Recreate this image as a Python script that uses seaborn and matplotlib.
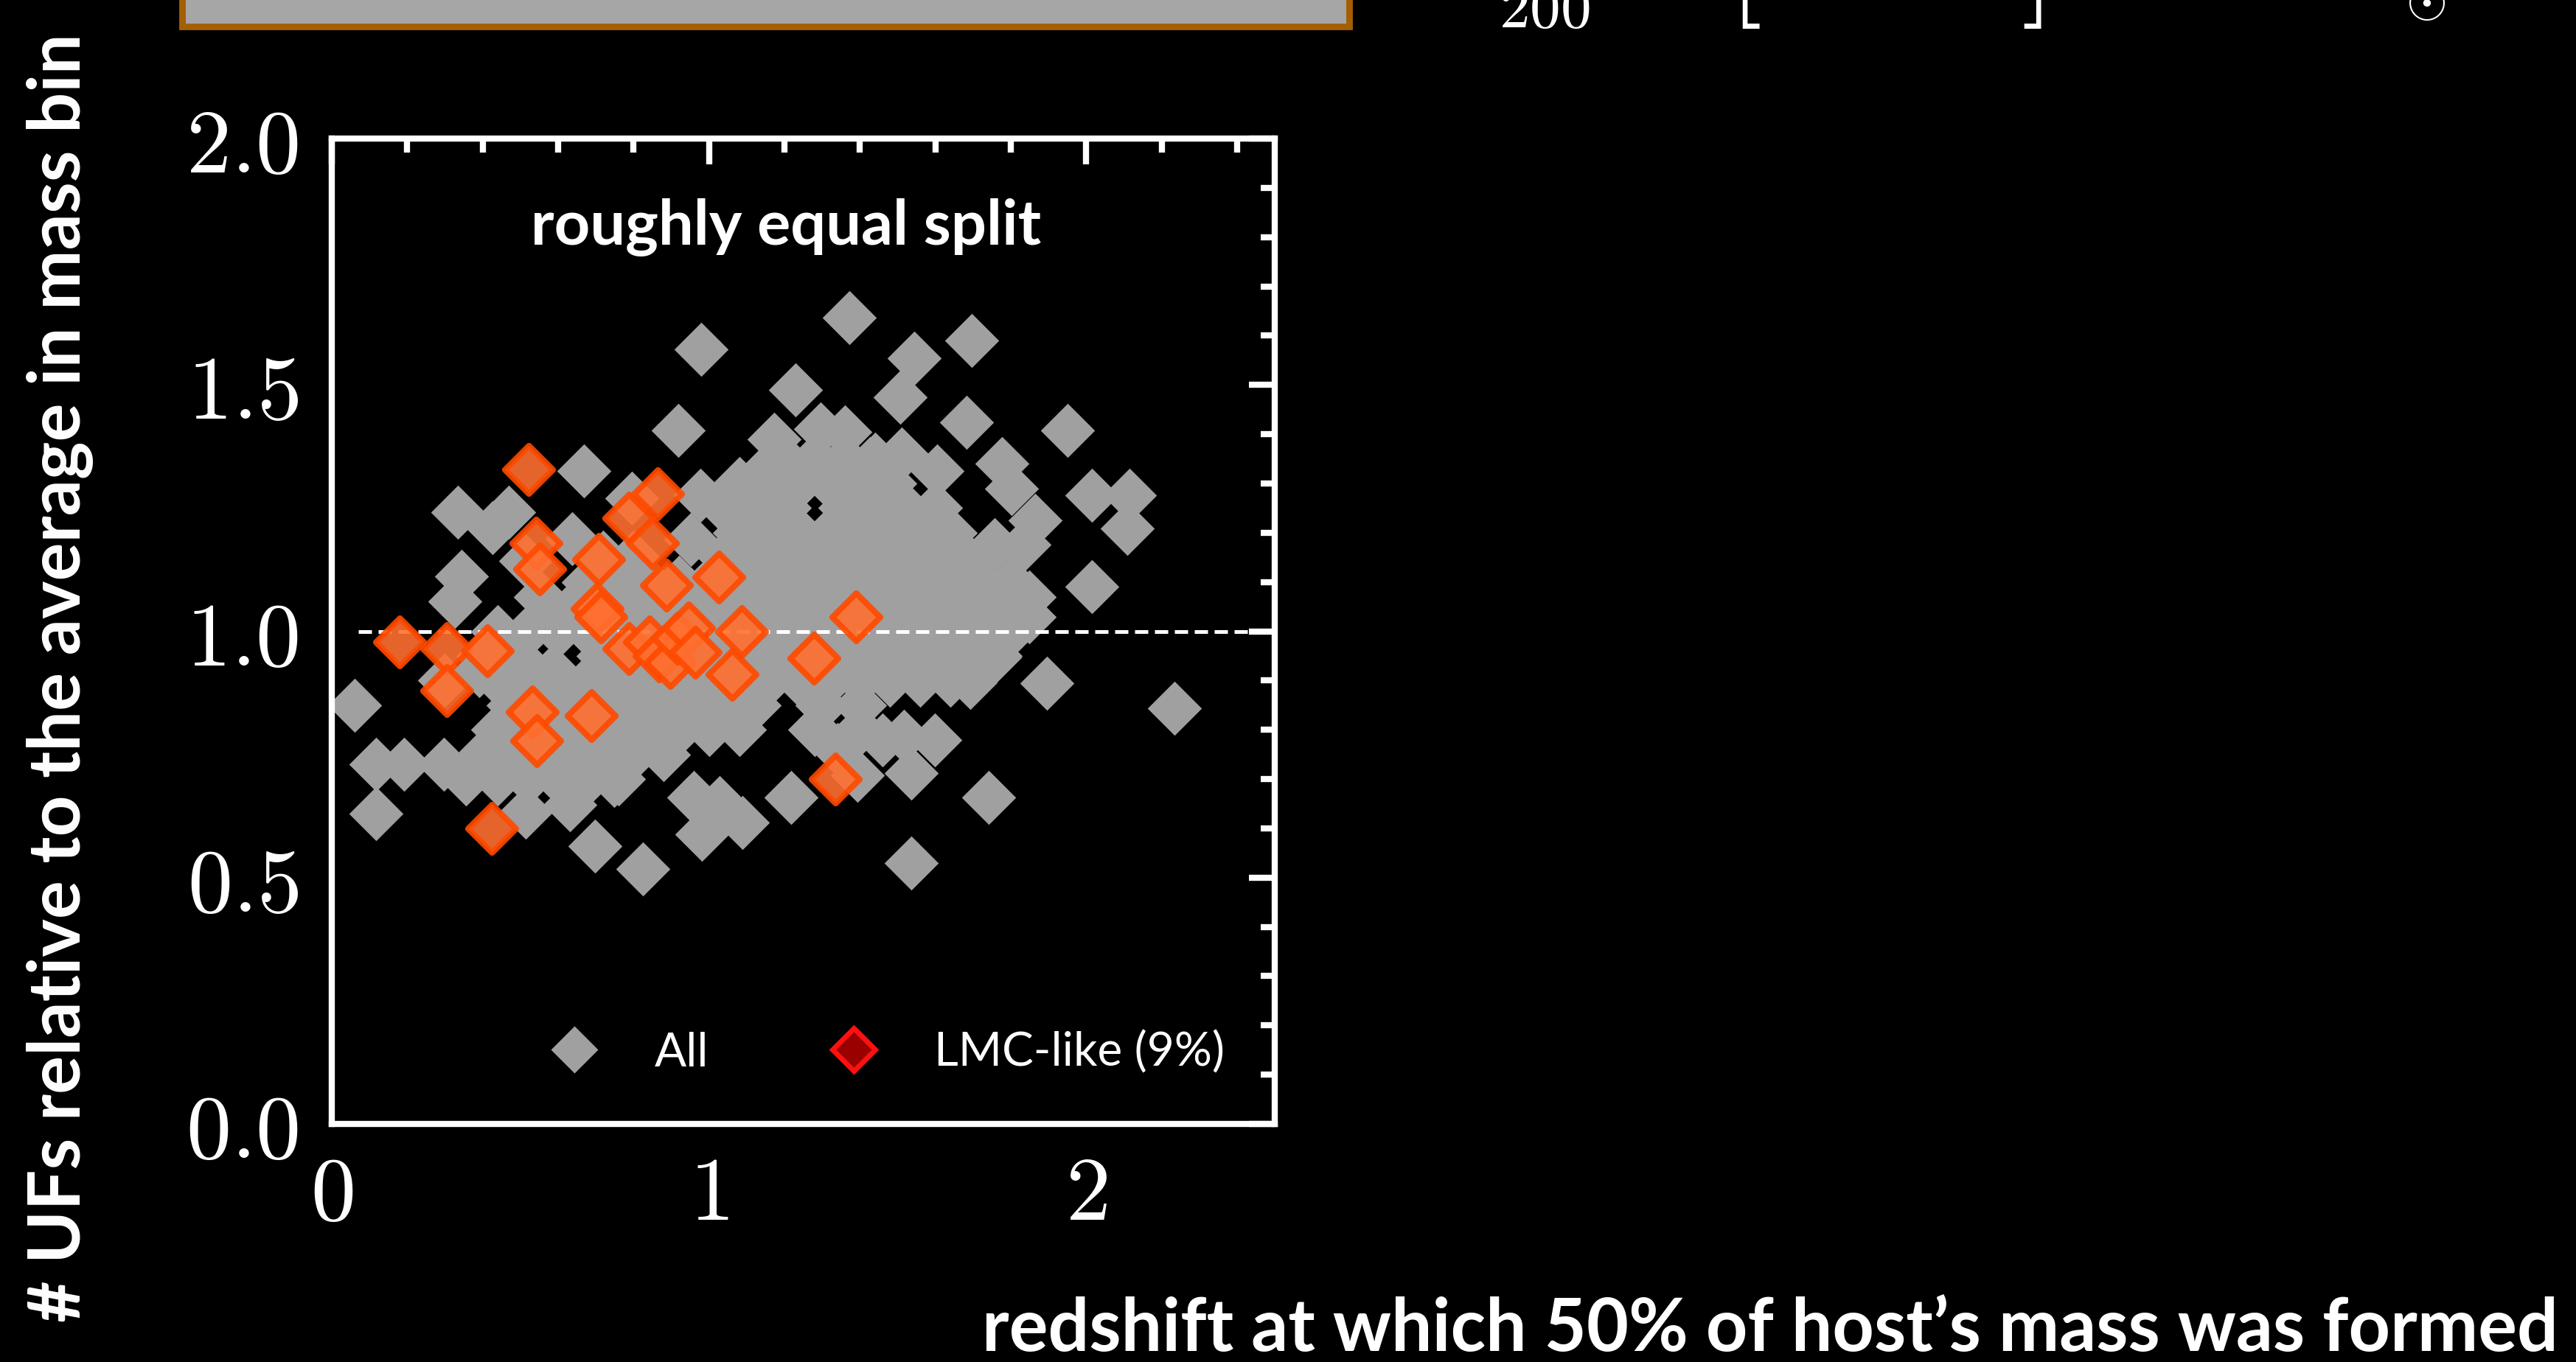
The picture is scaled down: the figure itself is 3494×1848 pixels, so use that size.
import matplotlib
matplotlib.use("Agg")
import matplotlib.pyplot as plt
import seaborn as sns
import pandas as pd
from matplotlib.lines import Line2D
from matplotlib.patches import Rectangle
from matplotlib.ticker import MultipleLocator

# ---------------- data ----------------
gray_x = [
    0.06, 0.117, 0.117, 0.191, 0.297, 0.355, 0.416,
    0.334, 0.47, 0.426, 0.668, 0.795, 0.637, 0.344, 0.326, 0.514, 0.553,
    1.373, 0.98, 1.545, 1.508, 1.229, 0.918, 1.172, 1.295, 1.361, 1.51, 1.426, 1.162, 0.977, 1.107, 0.951,
    1.696, 1.682, 1.951, 1.777, 1.605, 1.803, 1.865, 2.016, 2.115, 2.109, 1.758, 1.836, 1.693, 2.016, 1.85,
    0.514, 0.697, 0.631, 0.825, 0.748, 0.39, 0.508, 0.586,
    1.537, 0.982, 1.088, 1.217, 0.96, 1.029, 1.537, 1.517, 1.393,
    1.896, 2.234, 1.742, 1.598, 1.85, 1.758, 1.693,
    1.28, 1.40, 1.34, 1.46,
    # dense core, row by row
    0.44, 0.52, 0.60, 0.68, 0.76,
    0.40, 0.48, 0.56, 0.64, 0.72, 0.80, 0.88,
    0.44, 0.52, 0.60, 0.68, 0.76, 0.84, 0.92, 1.00, 1.08,
    0.48, 0.56, 0.64, 0.72, 0.80, 0.88, 0.96, 1.04, 1.12, 1.30, 1.40,
    0.30, 0.44, 0.52, 0.60, 0.68, 0.76, 0.84, 0.92, 1.00, 1.08, 1.16, 1.24, 1.32, 1.40, 1.48, 1.56, 1.64,
    0.40, 0.48, 0.72, 0.80, 0.88, 0.96, 1.04, 1.12, 1.20, 1.28, 1.36, 1.44, 1.52, 1.60, 1.68, 1.76,
    0.44, 0.52, 0.60, 0.68, 0.76, 0.84, 0.92, 1.00, 1.08, 1.16, 1.24, 1.32, 1.40, 1.48, 1.56, 1.64, 1.72, 1.80,
    0.64, 0.72, 0.80, 0.88, 0.96, 1.04, 1.12, 1.20, 1.28, 1.36, 1.44, 1.52, 1.60, 1.68, 1.76,
    0.68, 0.76, 0.84, 0.92, 1.00, 1.08, 1.16, 1.24, 1.32, 1.40, 1.48, 1.56, 1.64, 1.72, 1.80,
    0.72, 0.80, 1.04, 1.12, 1.20, 1.28, 1.36, 1.44, 1.52, 1.60, 1.68,
    1.08, 1.16, 1.24, 1.32, 1.40, 1.48, 1.56, 1.64,
    1.04, 1.12, 1.20, 1.36, 1.44, 1.52, 1.60,
    1.08, 1.16, 1.24, 1.32, 1.40, 1.48,
    1.20, 1.28, 1.36, 1.44,
]
gray_y = [
    0.85, 0.63, 0.73, 0.73, 0.73, 0.70, 0.742,
    1.242, 1.242, 1.21, 1.325, 1.27, 1.188, 1.111, 1.06, 1.143, 1.07,
    1.637, 1.572, 1.554, 1.475, 1.49, 1.408, 1.39, 1.41, 1.405, 1.36, 1.34, 1.336, 1.276, 1.261, 1.186,
    1.59, 1.424, 1.408, 1.34, 1.325, 1.29, 1.225, 1.276, 1.276, 1.209, 1.176, 1.176, 1.111, 1.09, 1.07,
    0.633, 0.564, 0.648, 0.518, 0.697, 0.92, 0.936, 0.92,
    0.53, 0.588, 0.612, 0.663, 0.663, 0.652, 0.712, 0.787, 0.707,
    0.895, 0.844, 0.663, 0.779, 1.029, 0.947, 0.896,
    0.80, 0.80, 0.76, 0.78,
    0.70, 0.70, 0.70, 0.70, 0.70,
    0.75, 0.75, 0.75, 0.75, 0.75, 0.75, 0.75,
    0.80, 0.80, 0.80, 0.80, 0.80, 0.80, 0.80, 0.80, 0.80,
    0.85, 0.85, 0.85, 0.85, 0.85, 0.85, 0.85, 0.85, 0.85, 0.85, 0.85,
    0.90, 0.90, 0.90, 0.90, 0.90, 0.90, 0.90, 0.90, 0.90, 0.90, 0.90, 0.90, 0.90, 0.90, 0.90, 0.90, 0.90,
    0.95, 0.95, 0.95, 0.95, 0.95, 0.95, 0.95, 0.95, 0.95, 0.95, 0.95, 0.95, 0.95, 0.95, 0.95, 0.95,
    1.00, 1.00, 1.00, 1.00, 1.00, 1.00, 1.00, 1.00, 1.00, 1.00, 1.00, 1.00, 1.00, 1.00, 1.00, 1.00, 1.00, 1.00,
    1.05, 1.05, 1.05, 1.05, 1.05, 1.05, 1.05, 1.05, 1.05, 1.05, 1.05, 1.05, 1.05, 1.05, 1.05,
    1.10, 1.10, 1.10, 1.10, 1.10, 1.10, 1.10, 1.10, 1.10, 1.10, 1.10, 1.10, 1.10, 1.10, 1.10,
    1.15, 1.15, 1.15, 1.15, 1.15, 1.15, 1.15, 1.15, 1.15, 1.15, 1.15,
    1.20, 1.20, 1.20, 1.20, 1.20, 1.20, 1.20, 1.20,
    1.25, 1.25, 1.25, 1.25, 1.25, 1.25, 1.25,
    1.30, 1.30, 1.30, 1.30, 1.30, 1.30,
    1.35, 1.35, 1.35, 1.35,
]
lmc_x = [0.522, 0.542, 0.552, 0.707, 0.703, 0.713, 0.787, 0.863, 0.851, 0.887, 1.026,
         0.179, 0.305, 0.413, 0.305, 0.532, 0.544, 0.688, 0.787, 0.843, 0.867, 0.897,
         0.917, 0.947, 0.963, 1.086, 1.062, 1.279, 1.389, 1.335, 0.424]
lmc_y = [1.329, 1.179, 1.126, 1.146, 1.046, 1.029, 1.229, 1.279, 1.179, 1.093, 1.110,
         0.979, 0.965, 0.960, 0.879, 0.836, 0.778, 0.829, 0.965, 0.979, 0.950, 0.936,
         0.986, 1.007, 0.957, 1.000, 0.912, 0.946, 1.029, 0.700, 0.600]

x_ticks = [0, 1, 2]
x_tick_labels = ["0", "1", "2"]
y_ticks = [0.0, 0.5, 1.0, 1.5, 2.0]
y_tick_labels = ["0.0", "0.5", "1.0", "1.5", "2.0"]
legend_labels = ["All", "LMC-like (9%)"]
panel_title = "roughly equal split"
x_label = "redshift at which 50% of host\u2019s mass was formed"
y_label = "# UFs relative to the average in mass bin"
reference_level = 1.0

# ---------------- style ----------------
sns.set_theme(style="dark", rc={
    "axes.facecolor": "black", "figure.facecolor": "black",
    "savefig.facecolor": "black", "text.color": "white",
    "axes.edgecolor": "white", "xtick.color": "white", "ytick.color": "white",
    "axes.grid": False,
})
plt.rcParams["font.family"] = ["Lato", "DejaVu Sans"]
plt.rcParams["mathtext.fontset"] = "cm"

W, H, DPI = 3494, 1849, 200
fig = plt.figure(figsize=(W / DPI, H / DPI), dpi=DPI)
ax = fig.add_axes([450 / W, 1 - 1526 / H, (1729 - 450) / W, (1526 - 189) / H])
ax.set_facecolor("black")

gray_df = pd.DataFrame({"z50": gray_x, "ratio": gray_y})
lmc_df = pd.DataFrame({"z50": lmc_x, "ratio": lmc_y})

sns.scatterplot(data=gray_df, x="z50", y="ratio", marker="D", s=350,
                color="#a0a0a0", linewidth=0, ax=ax, zorder=2, legend=False)
ax.axhline(reference_level, xmin=0.028, xmax=0.972, color="white", lw=1.8,
           dashes=(3.6, 1.8), zorder=3)
sns.scatterplot(data=lmc_df, x="z50", y="ratio", marker="D", s=275,
                color="#ff7030", edgecolor="#ff4a00", linewidth=2.9, alpha=0.9,
                ax=ax, zorder=4, legend=False)

ax.set_xlim(0, 2.5)
ax.set_ylim(0, 2)
ax.set_xticks(x_ticks)
ax.set_xticklabels(["$" + t + "$" for t in x_tick_labels])
ax.set_yticks(y_ticks)
ax.set_yticklabels(["$" + t + "$" for t in y_tick_labels])
ax.xaxis.set_minor_locator(MultipleLocator(0.2))
ax.yaxis.set_minor_locator(MultipleLocator(0.1))
ax.tick_params(which="both", direction="in", top=True, right=True,
               color="white", width=3, labelcolor="white")
ax.tick_params(which="major", length=12.5, labelsize=44)
ax.tick_params(axis="y", which="major", pad=16)
ax.tick_params(axis="x", which="major", pad=14)
ax.tick_params(which="minor", length=7)
for sp in ax.spines.values():
    sp.set_color("white")
    sp.set_linewidth(3)
ax.set_xlabel("")
ax.set_ylabel("")

ax.text(0.482, 0.911, panel_title, transform=ax.transAxes, ha="center",
        va="center", fontsize=30.5, fontweight="bold", color="white")

handles = [
    Line2D([], [], marker="D", ls="none", markersize=16.5,
           markerfacecolor="#a0a0a0", markeredgecolor="none"),
    Line2D([], [], marker="D", ls="none", markersize=15,
           markerfacecolor="#990000", markeredgecolor="#ff1010", markeredgewidth=2.5),
]
leg = ax.legend(handles, legend_labels, loc="center", bbox_to_anchor=(0.577, 0.073),
                ncol=2, frameon=False, fontsize=23, handletextpad=0.71,
                columnspacing=2.07, labelcolor="white")

fig.text(82 / W, 1 - 920 / H, y_label, rotation=90, ha="center", va="center",
         fontsize=35, fontweight="bold", color="white")
fig.text(3470 / W, 1 - 1805 / H, x_label, ha="right", va="center",
         fontsize=35.5, fontweight="bold", color="white")

# cropped pieces of neighbouring panels at the top edge
fig.patches.append(Rectangle((247 / W, 1 - 37 / H), (1830 - 247) / W, 0.05,
                             transform=fig.transFigure, facecolor="#a6a6a6",
                             edgecolor="#a35f00", linewidth=3.2))
fig.text(2095 / W, 1 - 37 / H, "$200$", ha="center", va="baseline",
         fontsize=30, color="white")
fig.text(2365 / W, 1 - 41 / H, "$[$", ha="center", va="bottom", fontsize=60, color="white")
fig.text(2755 / W, 1 - 41 / H, "$]$", ha="center", va="bottom", fontsize=60, color="white")
fig.text(3290 / W, 1 - 34 / H, r"$\odot$", ha="center", va="bottom", fontsize=26, color="white")

fig.savefig("out.png", dpi=DPI, facecolor="black")
